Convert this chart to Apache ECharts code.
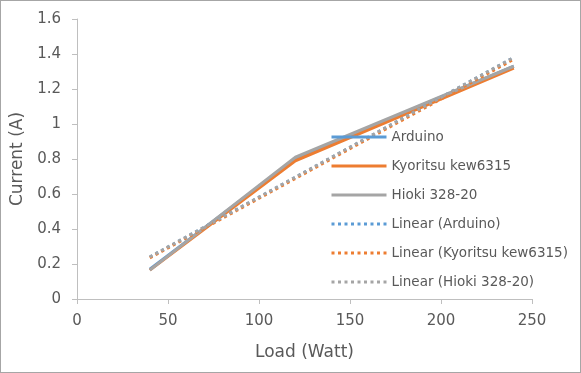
<!DOCTYPE html>
<html><head><meta charset="utf-8">
<script src="https://cdn.jsdelivr.net/npm/echarts@6/dist/echarts.min.js"></script>
<style>html,body{margin:0;padding:0;background:#fff}#c{width:579px;height:371px;border:1px solid #a6a6a6}</style>
</head><body><div id="c"></div>
<script>
const loads = [40, 120, 240];
const arduino = [0.17, 0.80, 1.33];
const kyoritsu = [0.165, 0.79, 1.32];
const hioki = [0.165, 0.81, 1.33];
const trendX = [40, 240];
const trendArduino = [0.24, 1.38];
const trendKyoritsu = [0.235, 1.37];
const trendHioki = [0.24, 1.38];
const xTicks = [0, 50, 100, 150, 200, 250];

const pair = (xs, ys) => xs.map((x, i) => [x, ys[i]]);
const txt = '#595959';
const FF = 'DejaVu Sans';
const solid = (name, data, color) => ({name, type:'line', data: pair(loads, data), symbol:'none',
  lineStyle:{color, width:3}, itemStyle:{color}});
const dotted = (name, data, color) => ({name, type:'line', data: pair(trendX, data), symbol:'none',
  lineStyle:{color, width:3, type:[3,3.5]}, itemStyle:{color}});
const chart = echarts.init(document.getElementById('c'));
chart.setOption({
  animation:false,
  grid:{left:76, right:48, top:18, bottom:73},
  legend:{orient:'vertical', left:324, top:124, itemWidth:55, itemHeight:14, itemGap:15,
    itemStyle:{opacity:0, borderWidth:0}, lineStyle:{width:3},
    textStyle:{color:txt, fontSize:13.5, fontFamily:FF}},
  xAxis:{type:'value', min:xTicks[0], max:xTicks[xTicks.length-1], interval:50,
    name:'Load (Watt)', nameLocation:'middle', nameGap:45,
    nameTextStyle:{color:txt, fontSize:17, fontFamily:FF},
    axisLine:{show:true, lineStyle:{color:'#bfbfbf'}}, axisTick:{show:true, length:5, lineStyle:{color:'#bfbfbf'}},
    splitLine:{show:false}, axisLabel:{color:txt, fontSize:15, fontFamily:FF, margin:15}},
  yAxis:{type:'value', min:0, max:1.6, interval:0.2,
    name:'Current (A)', nameLocation:'middle', nameGap:50,
    nameTextStyle:{color:txt, fontSize:17, fontFamily:FF},
    axisLine:{show:true, lineStyle:{color:'#bfbfbf'}}, axisTick:{show:true, length:5, lineStyle:{color:'#bfbfbf'}},
    splitLine:{show:false}, axisLabel:{color:txt, fontSize:15, fontFamily:FF, margin:16}},
  series:[
    solid('Arduino', arduino, '#5b9bd5'),
    solid('Kyoritsu kew6315', kyoritsu, '#ed7d31'),
    solid('Hioki 328-20', hioki, '#a5a5a5'),
    dotted('Linear (Arduino)', trendArduino, '#5b9bd5'),
    dotted('Linear (Kyoritsu kew6315)', trendKyoritsu, '#ed7d31'),
    dotted('Linear (Hioki 328-20)', trendHioki, '#a5a5a5')
  ]
});
</script></body></html>
